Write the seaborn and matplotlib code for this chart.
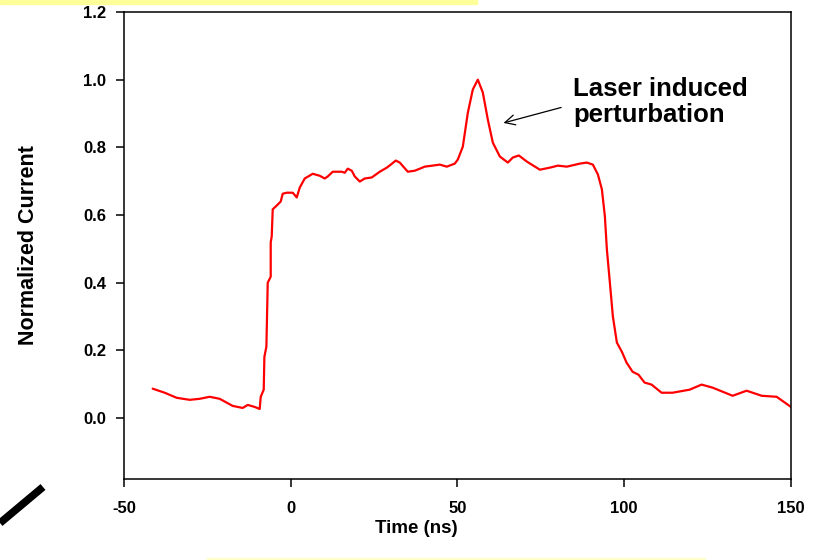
import matplotlib
matplotlib.use("Agg")
import matplotlib.pyplot as plt
import seaborn as sns
import pandas as pd
from matplotlib.lines import Line2D
from matplotlib.patches import Rectangle

# Time axis (ns) and normalized current of the pulse
time_ns = [
    -41.4, -37.8, -34.2, -30.3, -27.3, -24.3, -21.3, -17.4, -14.4, -12.9,
    -10.8, -9.3, -9.0, -8.1, -7.9, -7.3, -7.0, -6.9, -6.0, -6.0,
    -5.7, -5.4, -4.2, -3.6, -3.0, -2.4, -1.2, 0.6, 1.8, 2.7,
    4.2, 6.6, 8.7, 10.2, 11.1, 12.6, 15.3, 16.2, 17.1, 18.3,
    19.2, 20.7, 22.2, 24.3, 26.7, 28.8, 30.0, 31.5, 32.7, 35.1,
    37.2, 40.2, 44.7, 46.8, 49.2, 50.1, 51.6, 53.1, 54.6, 56.1,
    57.6, 59.1, 60.6, 62.7, 65.1, 66.6, 68.4, 70.8, 74.7, 77.7,
    80.1, 82.8, 86.7, 88.8, 90.6, 92.1, 93.3, 94.2, 94.8, 95.7,
    96.6, 97.8, 99.3, 100.7, 102.5, 104.3, 106.1, 108.2, 111.2, 114.5,
    119.6, 123.2, 126.5, 129.5, 132.5, 136.7, 141.2, 145.7, 150.0,
]
current = [
    0.087, 0.075, 0.060, 0.054, 0.057, 0.063, 0.057, 0.036, 0.030, 0.039,
    0.033, 0.027, 0.063, 0.084, 0.181, 0.211, 0.350, 0.400, 0.418, 0.519,
    0.537, 0.617, 0.628, 0.634, 0.640, 0.663, 0.666, 0.666, 0.652, 0.681,
    0.708, 0.722, 0.716, 0.708, 0.714, 0.728, 0.728, 0.725, 0.737, 0.731,
    0.714, 0.699, 0.708, 0.711, 0.728, 0.740, 0.749, 0.761, 0.755, 0.728,
    0.731, 0.743, 0.749, 0.743, 0.752, 0.764, 0.802, 0.902, 0.971, 1.000,
    0.962, 0.882, 0.814, 0.773, 0.755, 0.770, 0.776, 0.758, 0.734, 0.740,
    0.746, 0.743, 0.752, 0.755, 0.749, 0.720, 0.676, 0.596, 0.498, 0.400,
    0.300, 0.223, 0.196, 0.164, 0.137, 0.128, 0.105, 0.099, 0.075, 0.075,
    0.084, 0.099, 0.090, 0.078, 0.066, 0.081, 0.066, 0.063, 0.033,
]

x_ticks = [-50, 0, 50, 100, 150]
y_ticks = [0.0, 0.2, 0.4, 0.6, 0.8, 1.0, 1.2]
y_tick_labels = ["0.0", "0.2", "0.4", "0.6", "0.8", "1.0", "1.2"]

annotation_text = "Laser induced\nperturbation"
annotation_tip = (63.0, 0.870)
annotation_tail = (81.9, 0.920)

sns.set_style("ticks")
plt.rcParams["font.family"] = ["Liberation Sans", "DejaVu Sans"]
plt.rcParams["font.weight"] = "bold"
plt.rcParams["text.color"] = "black"
plt.rcParams["axes.labelcolor"] = "black"

df = pd.DataFrame({"Time (ns)": time_ns, "Normalized Current": current})

fig = plt.figure(figsize=(8.2, 5.6), dpi=100)
ax = fig.add_axes([0.1512, 0.1446, 0.8134, 0.834])

sns.lineplot(data=df, x="Time (ns)", y="Normalized Current", ax=ax,
             color="#ff0000", linewidth=1.6, sort=False, estimator=None)

ax.set_xlim(-50, 150)
ax.set_ylim(-0.18, 1.2)
ax.set_xticks(x_ticks)
ax.set_xticklabels([str(v) for v in x_ticks])
ax.set_yticks(y_ticks)
ax.set_yticklabels(y_tick_labels)

for s in ax.spines.values():
    s.set_visible(True)
    s.set_color("black")
    s.set_linewidth(1.1)

ax.tick_params(axis="both", direction="out", length=6, width=1.1,
               labelsize=12, colors="black")
ax.tick_params(axis="x", pad=10)
ax.tick_params(axis="y", pad=7)
for lab in ax.get_xticklabels() + ax.get_yticklabels():
    lab.set_fontweight("bold")

ax.set_xlabel("Time (ns)", fontsize=13.5, fontweight="bold", color="black")
ax.xaxis.set_label_coords(0.438, -0.088)
ax.set_ylabel("Normalized Current", fontsize=15.5, fontweight="bold",
              color="black")
ax.yaxis.set_label_coords(-0.128, 0.50)

ax.annotate("", xy=annotation_tip, xytext=annotation_tail,
            arrowprops=dict(arrowstyle="->", color="black", lw=0.9,
                            mutation_scale=18))
ax.text(84.6, 1.008, annotation_text, fontsize=18.5, fontweight="bold",
        ha="left", va="top", linespacing=1.12, color="black")

# slide decorations around the chart
fig.patches.append(Rectangle((0, 1 - 4 / 560), 477 / 820, 4 / 560,
                             transform=fig.transFigure, color="#ffff99",
                             zorder=0))
fig.patches.append(Rectangle((207 / 820, 0), 498 / 820, 2 / 560,
                             transform=fig.transFigure, color="#ffffcc",
                             zorder=0))
fig.lines.append(Line2D([0, 43 / 820], [1 - 523 / 560, 1 - 487 / 560],
                        transform=fig.transFigure, color="black",
                        linewidth=5.5, solid_capstyle="butt"))

fig.savefig("out.png", dpi=100)
